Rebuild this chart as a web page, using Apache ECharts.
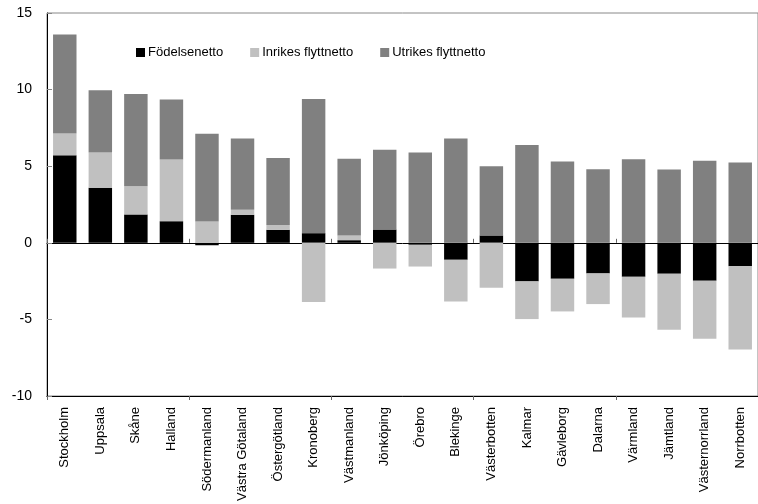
<!DOCTYPE html>
<html><head><meta charset="utf-8">
<script src="https://cdn.jsdelivr.net/npm/echarts@6/dist/echarts.min.js"></script>
<style>html,body{margin:0;padding:0;background:#fff}#c{width:758px;height:504px}</style>
</head><body><div id="c"></div>
<script>
const categories = ["Stockholm","Uppsala","Skåne","Halland","Södermanland","Västra Götaland","Östergötland","Kronoberg","Västmanland","Jönköping","Örebro","Blekinge","Västerbotten","Kalmar","Gävleborg","Dalarna","Värmland","Jämtland","Västernorrland","Norrbotten"];
const fodelsenetto = [5.71,3.59,1.85,1.41,-0.16,1.83,0.85,0.63,0.17,0.87,-0.13,-1.11,0.48,-2.52,-2.35,-2.0,-2.22,-2.02,-2.48,-1.53];
const inrikes = [1.42,2.30,1.84,4.02,1.39,0.32,0.32,-3.87,0.31,-1.68,-1.42,-2.72,-2.94,-2.46,-2.13,-2.0,-2.65,-3.66,-3.78,-5.43];
const utrikes = [6.46,4.06,6.03,3.92,5.72,4.65,4.37,8.76,5.0,5.2,5.89,6.80,4.52,6.39,5.30,4.80,5.45,4.78,5.35,5.24];
const seriesNames = ["Födelsenetto","Inrikes flyttnetto","Utrikes flyttnetto"];

const FONT = "'Liberation Sans', Arial, sans-serif";
const chart = echarts.init(document.getElementById('c'), null, {renderer:'canvas'});
const mk = (name, data, color) => ({
  name, type:'bar', stack:'tot', data, xAxisIndex:0,
  barCategoryGap:'34%', itemStyle:{color}, emphasis:{disabled:true}
});
chart.setOption({
  animation:false,
  textStyle:{fontFamily:FONT, color:'#000'},
  grid:{left:47, top:13, right:-2, bottom:108, show:true, borderColor:'#888', borderWidth:1, backgroundColor:'transparent'},
  legend:{
    left:131, top:41, itemWidth:9, itemHeight:9, itemGap:27,
    icon:'rect', textStyle:{fontFamily:FONT, fontSize:13, color:'#000', padding:[0,0,0,-2]},
    data:seriesNames
  },
  xAxis:[
    {type:'category', data:categories, position:'bottom',
     axisLine:{onZero:false, lineStyle:{color:'#666', width:1}},
     axisTick:{show:false},
     axisLabel:{rotate:90, interval:0, fontFamily:FONT, fontSize:13, color:'#000', margin:11}},
    {type:'category', data:categories, position:'bottom',
     axisLine:{onZero:true, lineStyle:{color:'#000', width:1}},
     axisTick:{show:true, inside:true, length:4, lineStyle:{color:'#666'}},
     axisLabel:{show:false}},
    {type:'category', data:categories, position:'bottom',
     axisLine:{onZero:true, lineStyle:{color:'#000', width:1}},
     axisTick:{show:true, inside:false, length:4, lineStyle:{color:'#666'}},
     axisLabel:{show:false}}
  ],
  yAxis:{
    type:'value', min:-10, max:15, interval:5,
    axisLine:{show:true, lineStyle:{color:'#000'}},
    axisTick:{show:true, inside:true, length:5, lineStyle:{color:'#888'}},
    splitLine:{show:false},
    axisLabel:{fontFamily:FONT, fontSize:14, color:'#000', margin:15}
  },
  series:[
    mk(seriesNames[0], fodelsenetto, '#000000'),
    mk(seriesNames[1], inrikes, '#c0c0c0'),
    mk(seriesNames[2], utrikes, '#808080')
  ]
});
</script></body></html>
